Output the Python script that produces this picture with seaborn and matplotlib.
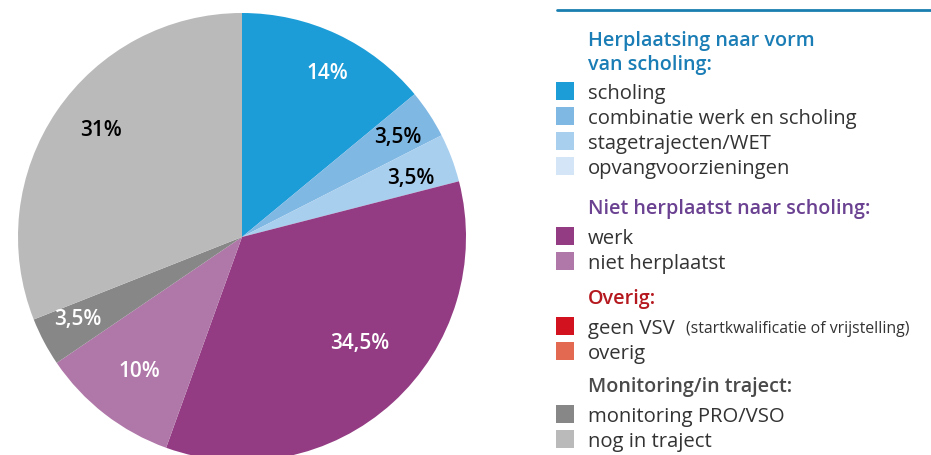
import matplotlib
matplotlib.use("Agg")
import matplotlib.pyplot as plt
import seaborn as sns
import numpy as np

# ---- data ----
categories = ['scholing', 'combinatie werk en scholing', 'stagetrajecten/WET', 'opvangvoorzieningen',
              'werk', 'niet herplaatst',
              'geen VSV', 'overig',
              'monitoring PRO/VSO', 'nog in traject']
values = [14, 3.5, 3.5, 0, 34.5, 10, 0, 0, 3.5, 31]
colors = ['#1d9dd8', '#80b8e4', '#a9cfef', '#d3e5f6', '#933c83', '#b077a9',
          '#d3121f', '#e36a50', '#878787', '#bababa']
label_colors = ['white', 'black', 'black', 'black', 'white', 'white',
                'white', 'white', 'white', 'black']
groups = ['Herplaatsing naar vorm\nvan scholing:', 'Niet herplaatst naar scholing:', 'Overig:', 'Monitoring/in traject:']
group_colors = ['#1a7db5', '#6b4292', '#b5191f', '#4a4a4a']
group_members = [[0, 1, 2, 3], [4, 5], [6, 7], [8, 9]]
note = '(startkwalificatie of vrijstelling)'

sns.set_theme(style='white')
plt.rcParams['font.family'] = ['Open Sans', 'DejaVu Sans']

W, H = 931, 456
fig = plt.figure(figsize=(W / 100, H / 100), dpi=100)

# ---- pie ----
cx, cy, r = 242, 238, 224
ax = fig.add_axes([(cx - r) / W, (H - cy - r) / H, 2 * r / W, 2 * r / H])
wedges, _ = ax.pie(values, colors=colors, startangle=90, counterclock=False, radius=1,
                   wedgeprops={'linewidth': 0})
ax.set_xlim(-1, 1)
ax.set_ylim(-1, 1)
ax.set_aspect('equal')
ax.axis('off')

# label placement: distance from centre and small angle shift per wedge
dist = [0.825, 0.83, 0.80, 0.8, 0.705, 0.75, 0.8, 0.8, 0.82, 0.79]
shift = [-2.2, -0.4, -1.2, 0, 6, 0.3, 0, 0, -1.6, -3.2]
for i, w in enumerate(wedges):
    if values[i] == 0:
        continue
    ang = np.deg2rad((w.theta1 + w.theta2) / 2 + shift[i])
    txt = ('%g%%' % values[i]).replace('.', ',')
    ax.text(dist[i] * np.cos(ang), dist[i] * np.sin(ang), txt, ha='center', va='center',
            fontsize=15, fontweight='semibold', color=label_colors[i])

# ---- legend ----
fig.add_artist(plt.Line2D([557 / W, 1], [1 - 11 / H, 1 - 11 / H], color='#1a7fb0', linewidth=2))

header_y = [53, 209, 299, 387]
row_start = [93, 238, 328, 416]
row_gap = 25
for g in range(len(groups)):
    fig.text(588 / W, 1 - header_y[g] / H, groups[g], ha='left', va='center', fontsize=14.2,
             fontweight='semibold', color=group_colors[g], linespacing=1.25)
    for k, idx in enumerate(group_members[g]):
        y = row_start[g] + k * row_gap
        fig.add_artist(plt.Rectangle((556 / W, 1 - (y + 8) / H), 18 / W, 18 / H,
                                     facecolor=colors[idx], edgecolor='none'))
        fig.text(588 / W, 1 - (y + 1) / H, categories[idx], ha='left', va='center', fontsize=14.6,
                 color='#333333')
        if idx == 6:
            fig.text(686 / W, 1 - (y + 1) / H, note, ha='left', va='center',
                     fontsize=11.4, color='#333333')

fig.savefig('out.png', dpi=100)
